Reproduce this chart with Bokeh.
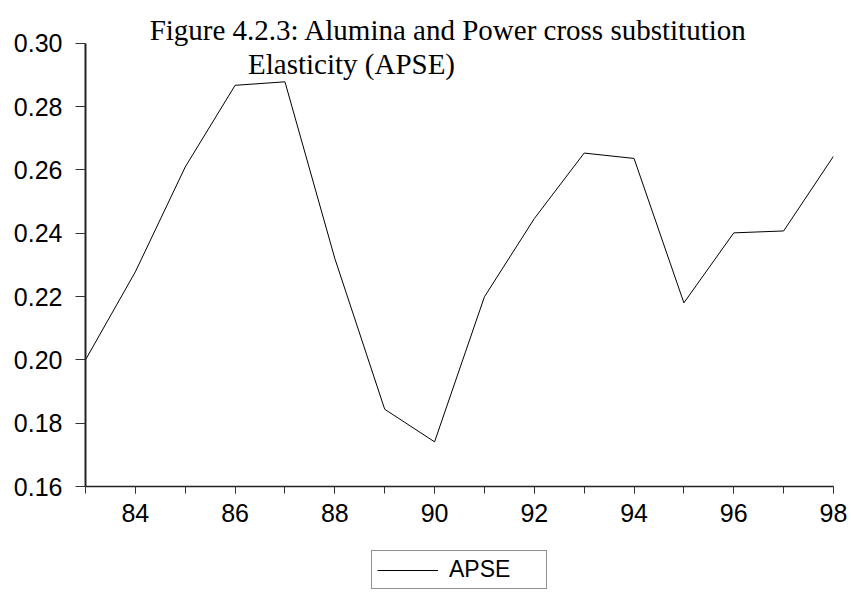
from bokeh.plotting import figure
from bokeh.layouts import column
from bokeh.models import (Range1d, FixedTicker, SingleIntervalTicker, NumeralTickFormatter,
                          Label, Legend, LegendItem)
from bokeh.embed import file_html
from bokeh.resources import INLINE

years = [83, 84, 85, 86, 87, 88, 89, 90, 91, 92, 93, 94, 95, 96, 97, 98]
apse = [0.200, 0.2278, 0.2609, 0.2867, 0.2878, 0.2320, 0.1844, 0.1741,
        0.2199, 0.2446, 0.2653, 0.2636, 0.2180, 0.2401, 0.2407, 0.2643]
y_ticks = [0.16, 0.18, 0.20, 0.22, 0.24, 0.26, 0.28, 0.30]
title_lines = ["Figure 4.2.3: Alumina and Power cross substitution",
               "Elasticity (APSE)"]
series_name = "APSE"

# main chart: plot area reaches the top of the page so the title can sit inside it;
# the y axis itself is bounded to 0.16-0.30
p = figure(width=851, height=540, output_backend="svg", toolbar_location=None,
           title=None, x_range=Range1d(83, 98), y_range=Range1d(0.16, 0.31348),
           min_border_left=85, min_border_right=18, min_border_top=0,
           min_border_bottom=54)
p.outline_line_color = None
p.xgrid.visible = False
p.ygrid.visible = False
p.background_fill_color = "white"
p.border_fill_color = "white"

r = p.line(years, apse, line_color="black", line_width=1)

xa = p.xaxis[0]
xa.ticker = SingleIntervalTicker(interval=2, num_minor_ticks=2)
xa.axis_line_color = "#222222"
xa.axis_line_width = 1.5
xa.major_tick_out = 7
xa.major_tick_in = 0
xa.minor_tick_out = 7
xa.minor_tick_in = 0
xa.major_tick_line_color = "#333333"
xa.minor_tick_line_color = "#333333"
xa.major_label_text_font = "Liberation Sans"
xa.major_label_text_font_size = "25px"
xa.major_label_text_color = "black"
xa.major_label_standoff = 10

ya = p.yaxis[0]
ya.ticker = FixedTicker(ticks=y_ticks)
ya.bounds = (y_ticks[0], y_ticks[-1])
ya.formatter = NumeralTickFormatter(format="0.00")
ya.axis_line_color = "#222222"
ya.axis_line_width = 2
ya.major_tick_out = 10
ya.major_tick_in = 0
ya.minor_tick_line_color = None
ya.major_tick_line_color = "#333333"
ya.major_label_text_font = "Liberation Sans"
ya.major_label_text_font_size = "25px"
ya.major_label_text_color = "black"
ya.major_label_standoff = 13

for txt, xx, yy in zip(title_lines, [363, 266], [457, 423]):
    p.add_layout(Label(x=xx, y=yy, x_units="screen", y_units="screen", text=txt,
                       text_font="Liberation Serif", text_font_size="29px",
                       text_align="center", text_baseline="alphabetic",
                       text_color="black"))

# legend strip below the chart (its plot area is aligned with the chart's)
p2 = figure(width=851, height=52, output_backend="svg", toolbar_location=None,
            title=None, x_axis_type=None, y_axis_type=None,
            x_range=Range1d(0, 1), y_range=Range1d(0, 1),
            min_border=0)
p2.outline_line_color = None
p2.xgrid.visible = False
p2.ygrid.visible = False
p2.background_fill_color = "white"
p2.border_fill_color = "white"
r2 = p2.line(years, apse, line_color="black", line_width=1)

legend = Legend(items=[LegendItem(label=series_name, renderers=[r2])],
                location=(286, 3), orientation="horizontal",
                border_line_color="#222222", border_line_width=1,
                background_fill_color="white", background_fill_alpha=1,
                padding=5, margin=0, glyph_width=61, glyph_height=18,
                label_height=18, label_width=92, label_standoff=11, spacing=0,
                label_text_font="Liberation Sans", label_text_font_size="23px",
                label_text_color="black")
p2.add_layout(legend, "center")

layout = column(p, p2, spacing=0)
open("out.html", "w").write(file_html(layout, INLINE))
